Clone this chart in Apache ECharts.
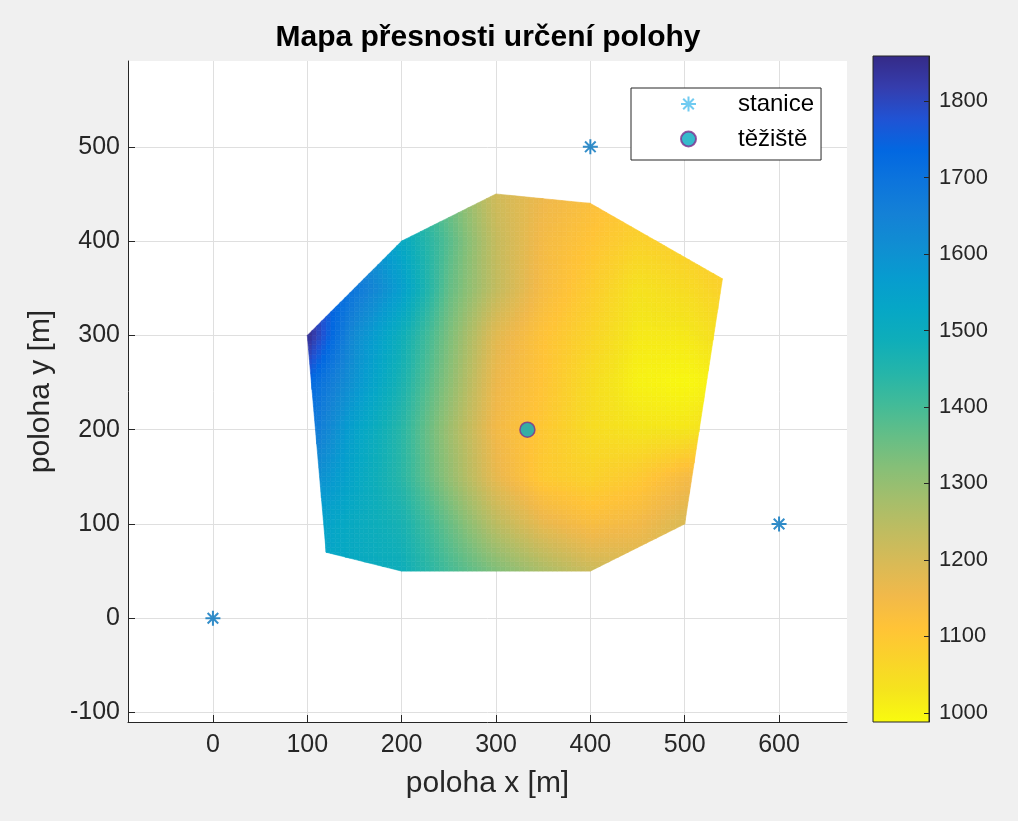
<!DOCTYPE html>
<html>
<head>
<meta charset="utf-8">
<script src="https://cdn.jsdelivr.net/npm/echarts@6/dist/echarts.min.js"></script>
<style>
html, body { margin: 0; padding: 0; background: #f0f0f0; }
#chart { width: 1018px; height: 821px; }
</style>
</head>
<body>
<div id="chart"></div>
<script>
// values
let xNodes = [100, 150, 200, 250, 300, 350, 400, 450, 500, 550];
let yNodes = [50, 100, 150, 200, 250, 300, 350, 400, 450];
// one row per yNodes entry, one value per xNodes entry
let zRows = [
	[1540, 1515, 1490, 1400, 1330, 1270, 1220, 1200, 1200, 1210],
	[1560, 1510, 1470, 1360, 1245, 1170, 1135, 1150, 1195, 1210],
	[1630, 1530, 1440, 1305, 1170, 1095, 1075, 1095, 1140, 1170],
	[1700, 1545, 1440, 1290, 1150, 1100, 1050, 1030, 1025, 1050],
	[1740, 1595, 1465, 1315, 1160, 1110, 1050, 1005, 995, 1010],
	[1855, 1620, 1490, 1335, 1180, 1115, 1070, 1020, 1020, 1050],
	[1830, 1690, 1560, 1365, 1235, 1140, 1090, 1035, 1050, 1080],
	[1800, 1650, 1520, 1380, 1230, 1145, 1110, 1075, 1085, 1100],
	[1760, 1600, 1480, 1350, 1210, 1160, 1130, 1100, 1100, 1100]
];
let hullX = [100, 200, 300, 400, 540, 500, 400, 200, 120];
let hullY = [300, 400, 450, 440, 360, 100, 50, 50, 70];
let stationX = [0, 400, 600];
let stationY = [0, 500, 100];
let centroidX = [333.3];
let centroidY = [200];
let cbMin = 988;
let cbMax = 1859;

let parula = ['#352a87', '#353dad', '#2053d4', '#0268e1', '#0d75dc', '#1481d6', '#108ed2', '#079ccf',
	'#06a7c6', '#0faeb9', '#25b5a9', '#42bb98', '#65be86', '#87bf77', '#a5be6b', '#c0bc60',
	'#d9ba56', '#f1b94a', '#ffc337', '#fad32a', '#f5e41d', '#f9fb0e'];

let FONT = '"Liberation Sans", Arial, sans-serif';
let INK = '#262626';

let hull = hullX.map((x, i) => [x, hullY[i]]);
let area = 0;
hull.forEach((p, i) => {
	let q = hull[(i + 1) % hull.length];
	area += p[0] * q[1] - q[0] * p[1];
});
let orient = area > 0 ? 1 : -1;

function side(a, b, p) {
	return orient * ((b[0] - a[0]) * (p[1] - a[1]) - (b[1] - a[1]) * (p[0] - a[0]));
}

function clipToHull(poly) {
	let out = poly;
	for (let k = 0; k < hull.length && out.length; k++) {
		let a = hull[k], b = hull[(k + 1) % hull.length];
		let inp = out;
		out = [];
		for (let m = 0; m < inp.length; m++) {
			let p = inp[m], q = inp[(m + 1) % inp.length];
			let sp = side(a, b, p), sq = side(a, b, q);
			if (sp >= 0) out.push(p);
			if ((sp >= 0) !== (sq >= 0)) {
				let t = sp / (sp - sq);
				out.push([p[0] + t * (q[0] - p[0]), p[1] + t * (q[1] - p[1])]);
			}
		}
	}
	return out;
}

function colorOf(v) {
	let t = (v - cbMin) / (cbMax - cbMin);
	t = Math.max(0, Math.min(1, t));
	return echarts.color.lerp(1 - t, parula);
}

let cells = [];
for (let j = 0; j < yNodes.length - 1; j++) {
	for (let i = 0; i < xNodes.length - 1; i++) {
		cells.push([xNodes[i], yNodes[j], xNodes[i + 1], yNodes[j + 1],
			zRows[j][i], zRows[j][i + 1], zRows[j + 1][i], zRows[j + 1][i + 1]]);
	}
}

function renderSurface(params, api) {
	let x0 = api.value(0), y0 = api.value(1), x1 = api.value(2), y1 = api.value(3);
	let z00 = api.value(4), z10 = api.value(5), z01 = api.value(6), z11 = api.value(7);
	let n = 10;
	let children = [];
	for (let a = 0; a < n; a++) {
		for (let b = 0; b < n; b++) {
			let xa = x0 + (x1 - x0) * a / n, xb = x0 + (x1 - x0) * (a + 1) / n;
			let ya = y0 + (y1 - y0) * b / n, yb = y0 + (y1 - y0) * (b + 1) / n;
			let poly = clipToHull([[xa, ya], [xb, ya], [xb, yb], [xa, yb]]);
			if (poly.length < 3) continue;
			let u = (a + 0.5) / n, v = (b + 0.5) / n;
			let z = z00 * (1 - u) * (1 - v) + z10 * u * (1 - v) + z01 * (1 - u) * v + z11 * u * v;
			let c = colorOf(z);
			children.push({
				type: 'polygon',
				shape: { points: poly.map(p => api.coord(p)) },
				style: { fill: c, stroke: c, lineWidth: 0.6 }
			});
		}
	}
	return { type: 'group', children: children };
}

function renderColorbar(params, api) {
	let p0 = api.coord([0, cbMax]);
	let p1 = api.coord([1, cbMin]);
	let stops = parula.map((c, i) => ({ offset: i / (parula.length - 1), color: c }));
	return {
		type: 'rect',
		shape: { x: p0[0], y: p0[1], width: p1[0] - p0[0], height: p1[1] - p0[1] },
		style: {
			fill: new echarts.graphic.LinearGradient(0, 0, 0, 1, stops),
			stroke: INK,
			lineWidth: 1
		}
	};
}

let asterisk = 'path://M0,-10L0,10M-10,0L10,0M-7.07,-7.07L7.07,7.07M-7.07,7.07L7.07,-7.07';

let myChart = echarts.init(document.getElementById('chart'));

let option = {
	backgroundColor: '#f0f0f0',
	animation: false,
	textStyle: { fontFamily: FONT },
	title: {
		text: 'Mapa přesnosti určení polohy',
		left: 488,
		top: 23,
		padding: 0,
		textAlign: 'center',
		textStyle: { fontSize: 30, fontWeight: 'bold', color: '#000', fontFamily: FONT }
	},
	legend: {
		orient: 'vertical',
		left: 631,
		top: 88,
		padding: [4, 7, 9, 49],
		itemGap: 11,
		itemWidth: 15,
		itemHeight: 15,
		backgroundColor: '#fff',
		borderColor: INK,
		borderWidth: 1,
		borderRadius: 0,
		textStyle: { fontSize: 24, lineHeight: 24, color: '#000', padding: [0, 0, 0, 37], fontFamily: FONT },
		data: [
			{ name: 'stanice', icon: asterisk, itemStyle: { borderColor: '#4dbeee', borderWidth: 2 } },
			{ name: 'těžiště', icon: 'circle' }
		]
	},
	grid: [
		{ left: 128, top: 61, width: 719, height: 661, show: true, backgroundColor: '#fff', borderWidth: 0 },
		{ left: 873, top: 56, width: 56, height: 666, show: false }
	],
	xAxis: [
		{
			gridIndex: 0,
			type: 'value',
			min: -90,
			max: 672,
			minInterval: 100,
			maxInterval: 100,
			name: 'poloha x [m]',
			nameLocation: 'middle',
			nameGap: 47,
			nameTextStyle: { fontSize: 30, color: INK, fontFamily: FONT },
			axisLine: { show: true, onZero: false, lineStyle: { color: INK, width: 1 } },
			axisTick: { show: true, inside: true, length: 7, lineStyle: { color: INK } },
			axisLabel: { showMinLabel: false, showMaxLabel: false, fontSize: 25, color: INK, margin: 11, fontFamily: FONT },
			splitLine: { show: true, showMinLine: false, showMaxLine: false, lineStyle: { color: '#dfdfdf', width: 1 } }
		},
		{ gridIndex: 1, type: 'value', min: 0, max: 1, show: false }
	],
	yAxis: [
		{
			gridIndex: 0,
			type: 'value',
			min: -110,
			max: 591,
			minInterval: 100,
			maxInterval: 100,
			name: 'poloha y [m]',
			nameLocation: 'middle',
			nameGap: 72,
			nameTextStyle: { fontSize: 30, color: INK, fontFamily: FONT },
			axisLine: { show: true, onZero: false, lineStyle: { color: INK, width: 1 } },
			axisTick: { show: true, inside: true, length: 7, lineStyle: { color: INK } },
			axisLabel: { showMinLabel: false, showMaxLabel: false, fontSize: 25, color: INK, margin: 8, fontFamily: FONT },
			splitLine: { show: true, showMinLine: false, showMaxLine: false, lineStyle: { color: '#dfdfdf', width: 1 } }
		},
		{
			gridIndex: 1,
			type: 'value',
			position: 'right',
			min: cbMin,
			max: cbMax,
			minInterval: 100,
			maxInterval: 100,
			z: 10,
			axisLine: { show: true, onZero: false, lineStyle: { color: INK, width: 1 } },
			axisTick: { show: true, inside: true, length: 5, lineStyle: { color: INK } },
			axisLabel: {
				showMinLabel: false, showMaxLabel: false, fontSize: 22, color: INK, margin: 10, fontFamily: FONT,
				formatter: v => String(v)
			},
			splitLine: { show: false }
		}
	],
	series: [
		{
			name: 'surface',
			type: 'custom',
			xAxisIndex: 0,
			yAxisIndex: 0,
			clip: true,
			silent: true,
			z: 2,
			renderItem: renderSurface,
			data: cells
		},
		{
			name: 'colorbar',
			type: 'custom',
			xAxisIndex: 1,
			yAxisIndex: 1,
			silent: true,
			z: 2,
			renderItem: renderColorbar,
			data: [[0, cbMin, 1, cbMax]]
		},
		{
			name: 'stanice',
			type: 'scatter',
			xAxisIndex: 0,
			yAxisIndex: 0,
			z: 5,
			symbol: asterisk,
			symbolSize: 15,
			symbolKeepAspect: true,
			itemStyle: { color: '#0072bd', borderColor: '#0072bd', borderWidth: 2 },
			data: stationX.map((x, i) => [x, stationY[i]])
		},
		{
			name: 'těžiště',
			type: 'scatter',
			xAxisIndex: 0,
			yAxisIndex: 0,
			z: 5,
			symbol: 'circle',
			symbolSize: 15,
			itemStyle: { color: '#04a9bf', borderColor: '#7e2f8e', borderWidth: 1.5 },
			data: centroidX.map((x, i) => [x, centroidY[i]])
		}
	]
};

myChart.setOption(option);
</script>
</body>
</html>
